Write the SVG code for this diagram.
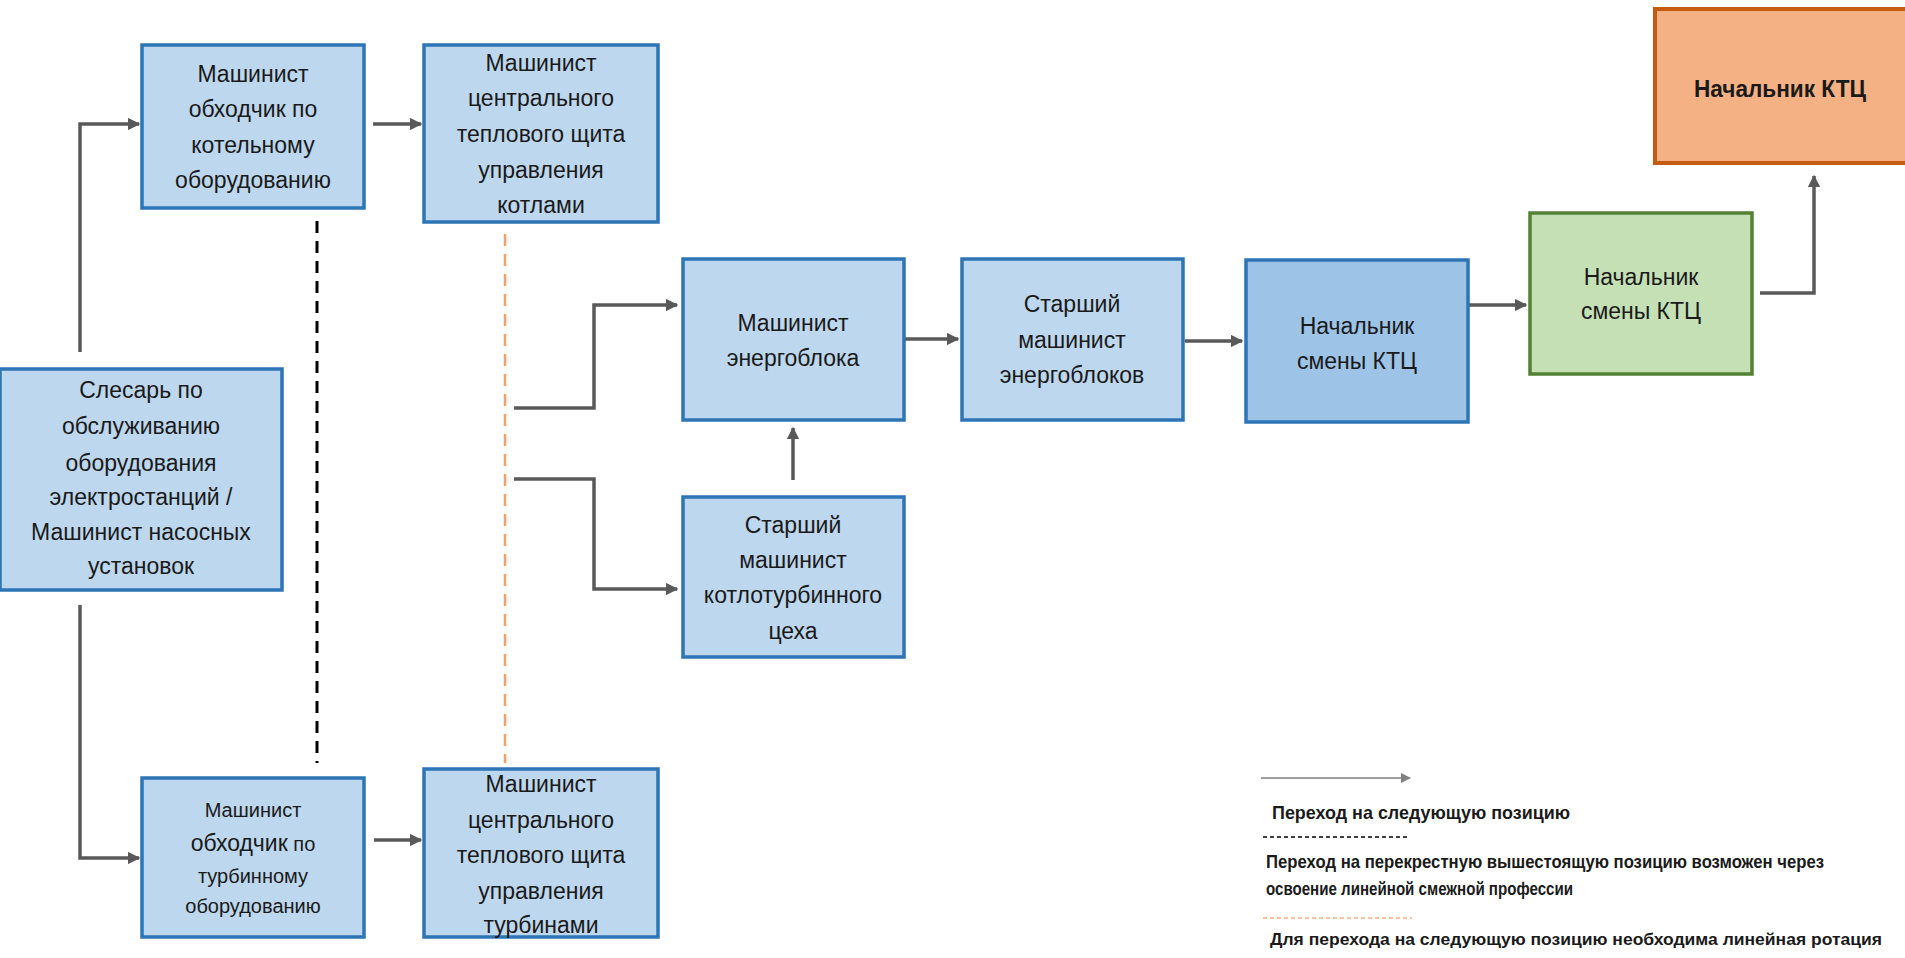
<svg xmlns="http://www.w3.org/2000/svg" width="1905" height="958" viewBox="0 0 1905 958">
<defs>
<style>
.box{fill:#bdd7ee;stroke:#2e75b6;stroke-width:3.5}
.box2{fill:#9dc3e6;stroke:#2e75b6;stroke-width:3.5}
.green{fill:#c5e0b4;stroke:#538135;stroke-width:3.5}
.orange{fill:#f4b183;stroke:#c55a11;stroke-width:4}
.t{font-family:"Liberation Sans","DejaVu Sans",sans-serif;font-size:23px;fill:#1a1a1a;text-anchor:middle}
.ts{font-size:20px}
.tb{font-weight:bold;font-size:23px}
.conn{fill:none;stroke:#595959;stroke-width:3.5}
.lg{font-family:"Liberation Sans","DejaVu Sans",sans-serif;font-size:19px;font-weight:bold;fill:#1a1a1a}
.lgs{font-size:16.5px}
</style>
<marker id="ah" viewBox="0 0 10 10" refX="9" refY="5" markerWidth="3.6" markerHeight="3.6" orient="auto">
<path d="M0,0 L10,5 L0,10 z" fill="#595959"/>
</marker>
<marker id="ah2" viewBox="0 0 10 10" refX="9" refY="5" markerWidth="7" markerHeight="7" orient="auto">
<path d="M0,0 L10,5 L0,10 z" fill="#808080"/>
</marker>
</defs>
<rect width="1905" height="958" fill="#ffffff"/>

<g id="connectors">
<path class="conn" d="M80,352 V124 H139" marker-end="url(#ah)"/>
<path class="conn" d="M80,605 V858 H139" marker-end="url(#ah)"/>
<path class="conn" d="M373,124 H421" marker-end="url(#ah)"/>
<path class="conn" d="M374,840 H421" marker-end="url(#ah)"/>
<path class="conn" d="M514,408 H594 V305 H677" marker-end="url(#ah)"/>
<path class="conn" d="M514,479 H594 V589 H677" marker-end="url(#ah)"/>
<path class="conn" d="M793,480 V428" marker-end="url(#ah)"/>
<path class="conn" d="M905,339 H958" marker-end="url(#ah)"/>
<path class="conn" d="M1185,341 H1242" marker-end="url(#ah)"/>
<path class="conn" d="M1469,305 H1526" marker-end="url(#ah)"/>
<path class="conn" d="M1760,293 H1814 V176" marker-end="url(#ah)"/>
<line x1="317" y1="221" x2="317" y2="763" stroke="#000000" stroke-width="3" stroke-dasharray="12 8"/>
<line x1="505" y1="234" x2="505" y2="763" stroke="#f4a06b" stroke-width="2.5" stroke-dasharray="12 8"/>
</g>

<g id="nodeA">
<rect class="box" x="142" y="45" width="222" height="163"/>
<text class="t" x="253" y="82">Машинист</text>
<text class="t" x="253" y="117">обходчик по</text>
<text class="t" x="253" y="153">котельному</text>
<text class="t" x="253" y="188">оборудованию</text>
</g>

<g id="nodeB">
<rect class="box" x="424" y="45" width="234" height="177"/>
<text class="t" x="541" y="71">Машинист</text>
<text class="t" x="541" y="106">центрального</text>
<text class="t" x="541" y="142">теплового щита</text>
<text class="t" x="541" y="178">управления</text>
<text class="t" x="541" y="213">котлами</text>
</g>

<g id="nodeC">
<rect class="box" x="0" y="369" width="282" height="221"/>
<text class="t" x="141" y="398">Слесарь по</text>
<text class="t" x="141" y="434">обслуживанию</text>
<text class="t" x="141" y="471">оборудования</text>
<text class="t" x="141" y="505">электростанций /</text>
<text class="t" x="141" y="540">Машинист насосных</text>
<text class="t" x="141" y="574">установок</text>
</g>

<g id="nodeD">
<rect class="box" x="142" y="778" width="222" height="159"/>
<text class="t ts" x="253" y="817">Машинист</text>
<text class="t ts" x="253" y="851"><tspan font-size="23">обходчик</tspan> по</text>
<text class="t ts" x="253" y="883">турбинному</text>
<text class="t ts" x="253" y="913">оборудованию</text>
</g>

<g id="nodeE">
<rect class="box" x="424" y="769" width="234" height="168"/>
<text class="t" x="541" y="792">Машинист</text>
<text class="t" x="541" y="828">центрального</text>
<text class="t" x="541" y="863">теплового щита</text>
<text class="t" x="541" y="899">управления</text>
<text class="t" x="541" y="933">турбинами</text>
</g>

<g id="nodeF">
<rect class="box" x="683" y="259" width="221" height="161"/>
<text class="t" x="793" y="331">Машинист</text>
<text class="t" x="793" y="366">энергоблока</text>
</g>

<g id="nodeG">
<rect class="box" x="962" y="259" width="221" height="161"/>
<text class="t" x="1072" y="312">Старший</text>
<text class="t" x="1072" y="348">машинист</text>
<text class="t" x="1072" y="383">энергоблоков</text>
</g>

<g id="nodeH">
<rect class="box" x="683" y="497" width="221" height="160"/>
<text class="t" x="793" y="533">Старший</text>
<text class="t" x="793" y="568">машинист</text>
<text class="t" x="793" y="603">котлотурбинного</text>
<text class="t" x="793" y="639">цеха</text>
</g>

<g id="nodeI">
<rect class="box2" x="1246" y="260" width="222" height="162"/>
<text class="t" x="1357" y="334">Начальник</text>
<text class="t" x="1357" y="369">смены КТЦ</text>
</g>

<g id="nodeJ">
<rect class="green" x="1530" y="213" width="222" height="161"/>
<text class="t" x="1641" y="285">Начальник</text>
<text class="t" x="1641" y="319">смены КТЦ</text>
</g>

<g id="nodeK">
<rect class="orange" x="1655" y="9" width="252" height="154"/>
<text class="t tb" x="1780" y="97" textLength="172" lengthAdjust="spacingAndGlyphs">Начальник КТЦ</text>
</g>

<g id="legend">
<line x1="1261" y1="778" x2="1410" y2="778" stroke="#808080" stroke-width="1.5" marker-end="url(#ah2)"/>
<text class="lg" x="1272" y="819" textLength="298" lengthAdjust="spacingAndGlyphs">Переход на следующую позицию</text>
<line x1="1263" y1="837" x2="1409" y2="837" stroke="#000000" stroke-width="1.5" stroke-dasharray="4 3"/>
<text class="lg" x="1266" y="868" textLength="558" lengthAdjust="spacingAndGlyphs">Переход на перекрестную вышестоящую  позицию возможен через</text>
<text class="lg" x="1266" y="895" textLength="307" lengthAdjust="spacingAndGlyphs">освоение линейной смежной профессии</text>
<line x1="1263" y1="918" x2="1412" y2="918" stroke="#f4b183" stroke-width="1.5" stroke-dasharray="4 3"/>
<text class="lg lgs" x="1270" y="945" textLength="612" lengthAdjust="spacingAndGlyphs">Для перехода на следующую позицию необходима линейная ротация</text>
</g>
</svg>
